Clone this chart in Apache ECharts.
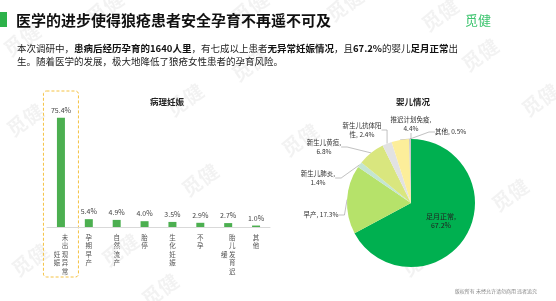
<!DOCTYPE html>
<html><head><meta charset="utf-8">
<script src="https://cdn.jsdelivr.net/npm/echarts@6/dist/echarts.min.js"></script>
<style>html,body{margin:0;padding:0;background:#fff}#c{width:556px;height:301px}</style>
</head><body><div id="c"></div>
<script>
const barCategories = ['未出现异常妊娠', '孕期早产', '自然流产', '胎停', '生化妊娠', '不孕', '胎儿发育迟缓', '其他'];
const barValues = [75.4, 5.4, 4.9, 4.0, 3.5, 2.9, 2.7, 1.0];
const pieNames = ['足月正常', '早产', '新生儿肺炎', '新生儿黄疸', '新生儿抗体阳性', '推迟计划免疫', '其他'];
const pieValues = [67.2, 17.3, 1.4, 6.8, 2.4, 4.4, 0.5];
const pieColors = ['#00B050', '#B6E26A', '#C4E5D2', '#D9E67E', '#E2E2E2', '#FCEE9A', '#C8C8C8'];
// label placement offsets (relative to pie centre) for the outside labels
const pieLabelSpots = {
  '早产': [-90, 12, 'center'],
  '新生儿肺炎': [-93, -25, 'center'],
  '新生儿黄疸': [-87, -56, 'center'],
  '新生儿抗体阳性': [-49, -73, 'center'],
  '推迟计划免疫': [0, -79, 'center'],
  '其他': [24, -71, 'left']
};

const FONT = '"Noto Sans CJK SC", "Noto Sans", sans-serif';
const PIE_C = [411, 203];

function vertLabel(s) {
  if (s.length <= 5) return s.split('').join('\n');
  const right = s.slice(0, 5).split('');
  const left = s.slice(5).split('');
  const start = 2;
  const rows = [];
  for (let i = 0; i < 5; i++) {
    const li = i - start;
    const l = (li >= 0 && li < left.length) ? left[li] : '　';
    rows.push(l + ' ' + right[i]);
  }
  return rows.join('\n');
}

const chart = echarts.init(document.getElementById('c'), null, {renderer: 'canvas'});

const marks = [[22,40],[105,8],[250,8],[345,5],[440,15],[25,120],[120,250],[200,180],[250,65],[185,100],[300,140],[420,260],[510,195],[540,100],[30,260],[480,55],[160,290]];
const watermark = marks.map(p => ({
  type: 'text', x: p[0], y: p[1], rotation: Math.PI / 5, z: 0, silent: true,
  style: {text: '觅健', fill: 'rgba(0,0,0,0.05)', font: 'bold 20px ' + FONT, align: 'center', verticalAlign: 'middle'}
}));

const option = {
  backgroundColor: '#fff',
  animation: false,
  title: [
    {text: '病理妊娠', left: 162, top: 93, textAlign: 'center', textStyle: {fontSize: 8.5, fontWeight: 'bold', color: '#222', fontFamily: FONT}},
    {text: '婴儿情况', left: 408, top: 93, textAlign: 'center', textStyle: {fontSize: 8.5, fontWeight: 'bold', color: '#222', fontFamily: FONT}}
  ],
  grid: {left: 47, right: 286, top: 111, bottom: 74},
  xAxis: {
    type: 'category', data: barCategories,
    axisLine: {lineStyle: {color: '#D9D9D9'}}, axisTick: {show: false},
    axisLabel: {interval: 0, fontSize: 6.5, lineHeight: 8.5, color: '#555', fontFamily: FONT, margin: 6,
      formatter: v => vertLabel(v)}
  },
  yAxis: {type: 'value', min: 0, max: 80, show: false, splitLine: {show: false}},
  series: [
    {type: 'bar', data: barValues, barWidth: 8, itemStyle: {color: '#4CAF50'},
      label: {show: true, position: 'top', distance: 4, fontSize: 7, color: '#444', fontFamily: FONT, formatter: p => p.value.toFixed(1) + '%'}},
    {type: 'pie', center: PIE_C, radius: 64, startAngle: 90, clockwise: true,
      data: pieNames.map((n, i) => ({name: n, value: pieValues[i], itemStyle: {color: pieColors[i]},
        label: i === 0 ? {position: 'inside', fontSize: 7, color: '#222'} : undefined,
        labelLine: i === 0 ? {show: false} : undefined})),
      label: {fontSize: 6.5, color: '#333', fontFamily: FONT, lineHeight: 9,
        formatter: p => {
          const v = p.value.toFixed(1) + '%';
          if (p.name === '足月正常') return '足月正常,\n' + v;
          if (p.name === '新生儿抗体阳性') return '新生儿抗体阳\n性, ' + v;
          if (p.name === '推迟计划免疫') return '推迟计划免疫,\n' + v;
          if (p.name === '新生儿黄疸' || p.name === '新生儿肺炎') return p.name + ',\n' + v;
          return p.name + ', ' + v;
        }},
      labelLine: {length: 8, length2: 6, lineStyle: {color: '#A6A6A6', width: 0.7}},
      labelLayout: function (params) {
        const name = pieNames[params.dataIndex];
        const s = pieLabelSpots[name];
        if (!s) return {};
        return {x: PIE_C[0] + s[0], y: PIE_C[1] + s[1], align: s[2], verticalAlign: 'middle'};
      }
    }
  ],
  graphic: [
    ...watermark,
    {type: 'rect', shape: {x: 0, y: 12, width: 7, height: 15}, style: {fill: '#2DB24A'}},
    {type: 'text', x: 16, y: 20, style: {text: '医学的进步使得狼疮患者安全孕育不再遥不可及', font: 'bold 15px ' + FONT, fill: '#111', verticalAlign: 'middle'}},
    {type: 'text', x: 478, y: 20, style: {text: '觅健', font: '13px ' + FONT, fill: '#3CC46E', align: 'center', verticalAlign: 'middle'}},
    {type: 'text', x: 17, y: 42, style: {
      text: '{n|本次调研中，}{b|患病后经历孕育的1640人里}{n|，有七成以上患者}{b|无异常妊娠情况}{n|，且}{b|67.2%}{n|的婴儿}{b|足月正常}{n|出}\n{n|生。随着医学的发展，极大地降低了狼疮女性患者的孕育风险。}',
      rich: {
        n: {fontSize: 9.5, fontFamily: FONT, fill: '#222', lineHeight: 13},
        b: {fontSize: 9.5, fontFamily: FONT, fontWeight: 'bold', fill: '#111', lineHeight: 13}
      }}},
    {type: 'text', x: 537, y: 291, style: {text: '版权所有 未经允许请勿商用 违者追究', font: '5px ' + FONT, fill: '#888', align: 'right', verticalAlign: 'middle'}}
  ]
};
chart.setOption(option);

// dashed highlight box around first bar, positioned from the axis scale
const p0 = chart.convertToPixel({gridIndex: 0}, [barCategories[0], 0]);
chart.setOption({graphic: [{type: 'rect', id: 'hl', shape: {x: p0[0] - 17.5, y: 91, width: 35, height: 186, r: 3},
  style: {fill: 'none', stroke: '#F5C242', lineWidth: 1, lineDash: [3, 2]}}]});
</script></body></html>
